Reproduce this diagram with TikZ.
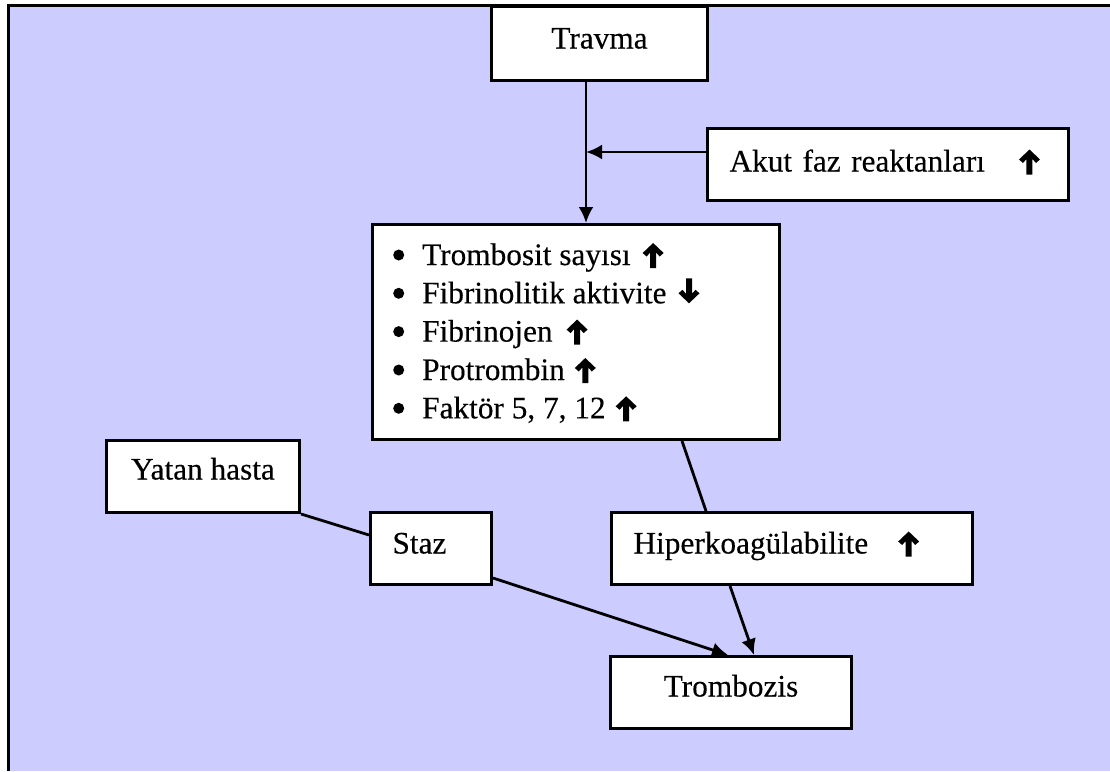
\documentclass[tikz,border=0pt]{standalone}
\usepackage{fontspec}
\setmainfont{Liberation Serif}[FakeBold=0.3]
\usetikzlibrary{arrows.meta,calc}
\definecolor{bgblue}{HTML}{CCCCFF}
\newcommand\UpArr{\tikz[baseline=0pt,x=1pt,y=1pt]\fill[black] (10,22)--(20.5,12)--(16.5,8.5)--(13,12.5)--(13,-3)--(7,-3)--(7,12.5)--(3.5,8.5)--(-0.5,12)--cycle;}
\newcommand\DownArr{\tikz[baseline=0pt,x=1pt,y=1pt]\fill[black] (10,0)--(20.5,10)--(16.5,13.5)--(13,9.5)--(13,25)--(7,25)--(7,9.5)--(3.5,13.5)--(-0.5,10)--cycle;}
\newcommand\Blt{\makebox[29pt][l]{\raisebox{4.5pt}{\tikz[x=1pt,y=1pt]\fill[black] (0,0) circle (5.5pt);}}}
\begin{document}
\begin{tikzpicture}[x=1pt,y=-1pt,
  txt/.style={font=\fontsize{31.3}{38.3}\selectfont},
  box/.style={txt, draw, fill=white, line width=3pt, inner ysep=0pt, anchor=north west},
  cbox/.style={inner xsep=0pt},
  lbox/.style={inner xsep=22pt, align=left},
  conn/.style={line width=2.8pt},
  arr/.style={conn, -{Latex[length=16pt,width=15pt]}},
  item/.style={txt, anchor=base west, inner sep=0pt}]
\useasboundingbox (0,0) rectangle (1110,771);
\fill[bgblue] (8,5) rectangle (1110,771);
\draw[line width=3pt] (8,771) -- (8,5) -- (1110,5);

\node[box, cbox, minimum width=216pt, text height=42pt, text depth=32pt] (travma) at (490,5) {Travma};
\node[box, lbox, text width=317pt, text height=43pt, text depth=29pt] (akut) at (706,127) {Akut faz reaktanları\hspace{34pt}\UpArr};
\node[box, minimum width=407pt, minimum height=215pt, inner sep=0pt] (list) at (371,223) {};
\node[item] (l1) at (393,265) {\Blt Trombosit sayısı\hspace{12pt}\UpArr};
\node[item] (l2) at (393,303.3) {\Blt Fibrinolitik aktivite\hspace{12pt}\DownArr};
\node[item] (l3) at (393,341.6) {\Blt Fibrinojen\hspace{14pt}\UpArr};
\node[item] (l4) at (393,380) {\Blt Protrombin\hspace{10pt}\UpArr};
\node[item] (l5) at (393,418.3) {\Blt Faktör 5, 7, 12\hspace{10pt}\UpArr};
\node[box, cbox, minimum width=193pt, text height=39pt, text depth=33pt] (yatan) at (105,439) {Yatan hasta};
\node[box, lbox, text width=77pt, text height=41pt, text depth=31pt] (staz) at (369,511) {Staz};
\node[box, lbox, text width=317pt, text height=41pt, text depth=31pt] (hiper) at (610,511) {Hiperkoagülabilite\hspace{30pt}\UpArr};
\node[box, cbox, minimum width=241pt, text height=40pt, text depth=32pt] (tromb) at (609,655) {Trombozis};

\coordinate (j) at (586,152);
\draw[arr] (j |- travma.south) -- (j |- list.north);
\draw[arr] (akut.west |- j) -- (j);
\draw[conn] ($(list.south west)+(311,0)$) -- ($(hiper.north west)+(96,0)$);
\draw[conn] (yatan.south east) -- ($(staz.north west)+(0,24)$);
\draw[arr] ($(staz.south east)+(0,-8)$) -- ($(tromb.north west)+(119,0)$);
\draw[arr] ($(hiper.south west)+(120,0)$) -- ($(tromb.north west)+(145,0)$);
\end{tikzpicture}
\end{document}
